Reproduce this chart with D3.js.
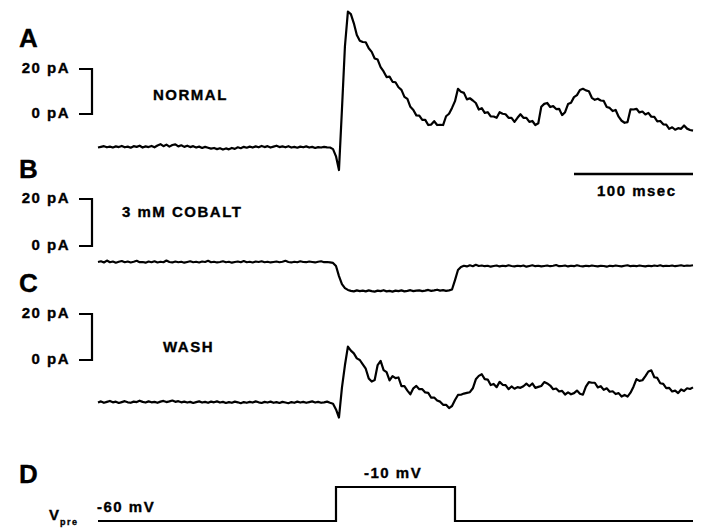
<!DOCTYPE html>
<html>
<head>
<meta charset="utf-8">
<script src="https://cdn.jsdelivr.net/npm/d3@7"></script>
<style>
  html, body { margin: 0; padding: 0; background: #fff; }
  svg { display: block; }
  text { font-family: "Liberation Sans", Arial, Helvetica, sans-serif; font-weight: bold; fill: #000;
         stroke: #000; stroke-width: 0.35px; }
</style>
</head>
<body>
<svg id="fig" width="702" height="529"></svg>
<script>
// Sampling interval of the recorded currents (ms); traces cover 0–500 ms.
const sampleMs = 2.5;

// Postsynaptic current, normal saline (pA), one row = 25 ms
const currentNormal = [
  -14.9,-14.6,-14.3,-14.8,-14.5,-14.9,-14.4,-14.7,-14.2,-14.8,
  -14.5,-15.0,-14.3,-14.6,-14.1,-14.9,-14.4,-14.7,-14.2,-14.8,
  -14.0,-13.4,-14.3,-13.6,-14.5,-13.8,-13.5,-14.4,-13.9,-14.6,
  -14.1,-14.7,-14.3,-14.9,-14.5,-15.1,-14.6,-15.0,-15.4,-15.1,
  -15.6,-15.2,-15.8,-15.3,-15.7,-15.1,-15.5,-14.8,-15.2,-14.6,
  -15.0,-14.5,-14.9,-14.4,-14.8,-14.2,-14.7,-14.3,-14.9,-14.5,
  -14.1,-14.7,-14.4,-14.8,-14.3,-14.9,-14.6,-15.0,-14.5,-14.8,
  -14.4,-14.9,-14.6,-15.1,-14.7,-14.9,-14.6,-14.8,-14.9,-15.6,
  -18.8,-24.9,2.0,30.0,45.5,44.4,40.3,35.1,32.6,32.0,
  31.9,29.2,27.6,24.7,24.2,20.8,18.9,16.4,16.6,14.3,
  14.1,11.9,10.7,7.6,6.7,3.2,1.8,-0.6,-0.7,-2.6,
  -2.6,-4.9,-4.7,-3.2,-4.9,-4.8,-4.9,-1.0,0.1,2.7,
  5.7,11.2,9.9,9.4,6.5,7.0,6.0,4.9,2.0,2.6,
  0.5,0.8,-1.1,-1.1,-1.7,0.8,0.1,-0.1,-1.7,-1.7,
  -3.5,-1.7,-0.1,-1.7,-1.7,-3.5,-3.1,-4.9,-4.1,3.2,
  4.5,4.9,3.1,3.5,2.2,2.3,-0.5,0.8,4.4,5.0,
  7.5,8.4,10.7,11.2,10.5,10.1,7.2,6.3,6.8,6.0,
  5.8,3.1,2.7,1.3,1.8,-1.2,-3.0,-3.9,-3.6,2.1,
  2.0,2.3,0.7,1.1,-0.2,0.5,-1.2,-1.3,-3.3,-3.1,
  -4.6,-4.7,-6.6,-5.9,-7.0,-6.3,-6.6,-5.1,-6.5,-7.1,
  -7.4
];

// Current in 3 mM cobalt (pA)
const currentCobalt = [
  -6.8,-6.5,-7.0,-6.2,-6.9,-6.6,-7.1,-6.7,-6.4,-6.9,
  -6.6,-7.0,-6.7,-6.3,-6.9,-6.8,-7.1,-6.6,-6.9,-6.5,
  -7.0,-6.7,-6.9,-6.2,-6.8,-7.0,-6.6,-6.9,-6.7,-7.1,
  -6.8,-6.5,-6.9,-6.7,-7.0,-6.6,-6.8,-6.3,-6.9,-6.7,
  -7.0,-6.8,-6.5,-6.9,-6.7,-7.1,-6.8,-6.6,-6.9,-6.4,
  -6.9,-6.7,-7.0,-6.6,-6.8,-6.5,-6.9,-6.7,-7.0,-6.8,
  -6.6,-6.9,-6.7,-6.3,-6.8,-7.0,-6.7,-6.9,-6.5,-6.8,
  -6.9,-6.6,-6.8,-7.0,-6.7,-6.5,-6.9,-6.8,-7.0,-7.2,
  -8.5,-12.8,-16.2,-17.9,-18.7,-19.1,-19.3,-18.9,-19.2,-19.0,
  -19.3,-18.9,-19.2,-19.4,-19.0,-19.2,-18.8,-19.3,-19.1,-19.4,
  -19.0,-19.2,-18.9,-19.3,-19.1,-18.8,-19.2,-19.0,-18.9,-19.2,
  -19.0,-18.7,-19.1,-18.9,-18.6,-19.0,-18.8,-19.1,-18.9,-18.5,
  -14.5,-10.2,-8.9,-8.4,-8.7,-8.2,-8.6,-8.0,-8.5,-8.3,
  -8.6,-8.4,-8.8,-8.5,-8.3,-8.7,-8.4,-8.6,-8.2,-8.5,
  -8.7,-8.4,-8.6,-8.3,-8.8,-8.5,-8.2,-8.6,-8.4,-8.7,
  -8.5,-8.3,-8.6,-8.4,-8.1,-8.6,-8.5,-8.3,-8.7,-8.4,
  -8.6,-8.2,-8.5,-8.7,-8.4,-8.6,-8.3,-8.5,-8.7,-8.4,
  -8.5,-8.8,-8.4,-8.6,-8.3,-8.5,-8.7,-8.4,-8.2,-8.6,
  -8.4,-8.6,-8.3,-8.5,-8.7,-8.4,-8.6,-8.3,-8.5,-8.2,
  -8.6,-8.4,-8.5,-8.3,-8.6,-8.4,-8.2,-8.5,-8.3,-8.4,
  -8.2
];

// Current after washout (pA)
const currentWash = [
  -18.5,-18.0,-18.6,-18.2,-17.8,-18.4,-18.1,-18.7,-18.3,-17.9,
  -18.4,-18.6,-18.1,-18.3,-17.7,-18.2,-18.5,-18.0,-18.4,-18.2,
  -18.6,-18.1,-17.8,-18.3,-18.0,-17.6,-18.2,-17.9,-18.4,-18.1,
  -18.5,-18.2,-18.7,-18.3,-18.0,-18.5,-18.2,-18.6,-18.1,-18.4,
  -18.0,-18.5,-18.2,-18.7,-18.3,-18.6,-18.1,-18.4,-18.8,-18.3,
  -18.6,-18.2,-18.5,-18.0,-18.4,-18.7,-18.2,-18.5,-18.1,-18.6,
  -18.3,-18.7,-18.2,-18.5,-18.8,-18.3,-18.6,-18.1,-18.5,-18.2,
  -18.6,-18.3,-18.0,-18.5,-18.2,-18.6,-18.4,-18.1,-18.6,-19.0,
  -21.5,-25.0,-12.0,-2.3,5.8,4.1,2.9,0.7,0.0,-1.9,
  -3.8,-8.0,-9.4,-8.7,-2.2,-0.4,-4.4,-5.3,-8.9,-7.0,
  -7.9,-7.6,-11.4,-11.4,-13.3,-14.9,-12.3,-11.3,-12.7,-12.7,
  -14.1,-14.3,-16.4,-16.3,-17.6,-18.1,-19.5,-19.5,-20.9,-20.0,
  -17.4,-15.2,-15.1,-14.6,-14.3,-14.0,-12.3,-8.4,-6.9,-6.2,
  -8.3,-8.5,-10.9,-10.4,-11.8,-9.5,-10.8,-10.9,-12.7,-11.5,
  -12.5,-11.8,-12.1,-11.4,-10.3,-11.4,-10.2,-12.1,-11.7,-11.3,
  -9.6,-10.2,-11.1,-12.7,-12.4,-13.7,-13.4,-15.0,-14.1,-14.9,
  -14.4,-13.3,-14.7,-15.1,-11.6,-9.6,-9.9,-9.9,-11.9,-11.4,
  -13.0,-12.3,-13.8,-13.6,-14.8,-14.4,-15.9,-15.2,-15.9,-14.2,
  -11.6,-8.3,-9.1,-8.8,-7.0,-5.0,-4.5,-7.5,-7.8,-10.1,
  -10.4,-12.2,-12.1,-13.7,-13.3,-14.4,-12.8,-13.5,-12.3,-12.6,
  -11.9
];

// Presynaptic command potential: step times (ms) and levels (mV)
const vpreTimes = [0, 200, 300, 500];
const vpreLevels = [-60, -10, -60, -60];

// Panel letters, condition names and calibration labels
const panelLetters = ["A", "B", "C", "D"];
const conditionNames = ["NORMAL", "3 mM COBALT", "WASH"];
const calibLevels = [0, 20];
const calibLabels = ["0 pA", "20 pA"];
const timeBarMs = [400, 500];
const timeBarLabel = "100 msec";
const voltageLabels = ["-60 mV", "-10 mV"];

// ---------------------------------------------------------------
const svg = d3.select("#fig");
svg.append("rect").attr("width", 702).attr("height", 529).attr("fill", "#fff");

const x = d3.scaleLinear().domain([0, 500]).range([98, 693]);

// per-panel current scales: 0 pA and 20 pA levels
const panels = [
  { data: currentNormal, y: d3.scaleLinear().domain([0, 20]).range([114, 69]),
    letterY: 47, name: conditionNames[0], nameX: 153, nameY: 100 },
  { data: currentCobalt, y: d3.scaleLinear().domain([0, 20]).range([246, 199]),
    letterY: 178, name: conditionNames[1], nameX: 122, nameY: 217 },
  { data: currentWash, y: d3.scaleLinear().domain([0, 20]).range([360, 314]),
    letterY: 292, name: conditionNames[2], nameX: 163, nameY: 352 }
];

const labelStyle = sel => sel.style("font-size", "15px").style("letter-spacing", "1.5px");

panels.forEach((p, i) => {
  const g = svg.append("g");
  const line = d3.line()
    .x((d, k) => x(k * sampleMs))
    .y(d => p.y(d));
  g.append("path")
    .datum(p.data)
    .attr("d", line)
    .attr("fill", "none")
    .attr("stroke", "#000")
    .attr("stroke-width", 2.2)
    .attr("stroke-linejoin", "round");

  // calibration bracket
  const bx0 = 79, bx1 = 92;
  const bracket = d3.path();
  bracket.moveTo(bx0, p.y(calibLevels[1]));
  bracket.lineTo(bx1, p.y(calibLevels[1]));
  bracket.lineTo(bx1, p.y(calibLevels[0]));
  bracket.lineTo(bx0, p.y(calibLevels[0]));
  g.append("path").attr("d", bracket.toString())
    .attr("fill", "none").attr("stroke", "#000").attr("stroke-width", 2.2);

  calibLevels.forEach((lv, j) => {
    g.append("text")
      .attr("x", 70).attr("y", p.y(lv) + 4)
      .attr("text-anchor", "end")
      .text(calibLabels[j])
      .call(labelStyle);
  });

  g.append("text").attr("x", p.nameX).attr("y", p.nameY)
    .text(p.name).call(labelStyle);

  g.append("text").attr("x", 19).attr("y", p.letterY)
    .style("font-size", "26px")
    .text(panelLetters[i]);
});

// time calibration bar
svg.append("line")
  .attr("x1", x(timeBarMs[0])).attr("x2", x(timeBarMs[1]))
  .attr("y1", 174).attr("y2", 174)
  .attr("stroke", "#000").attr("stroke-width", 2.4);
svg.append("text").attr("x", 597).attr("y", 196)
  .text(timeBarLabel).call(labelStyle);

// panel D: command step
const yV = d3.scaleLinear().domain([-60, -10]).range([521, 487]);
const stepLine = d3.line()
  .x((d, k) => x(vpreTimes[k]))
  .y(d => yV(d))
  .curve(d3.curveStepAfter);
svg.append("path")
  .datum(vpreLevels)
  .attr("d", stepLine)
  .attr("fill", "none").attr("stroke", "#000").attr("stroke-width", 2.2);

svg.append("text").attr("x", 19).attr("y", 483)
  .style("font-size", "26px").text(panelLetters[3]);
svg.append("text").attr("x", 97).attr("y", 512)
  .text(voltageLabels[0]).call(labelStyle);
svg.append("text").attr("x", 364).attr("y", 478)
  .text(voltageLabels[1]).call(labelStyle);

const vlab = svg.append("text").attr("x", 49).attr("y", 520).style("font-size", "15px");
vlab.append("tspan").text("V");
vlab.append("tspan").attr("dy", 5).attr("dx", 1)
  .style("font-size", "9px").style("letter-spacing", "1.5px").text("pre");
</script>
</body>
</html>
